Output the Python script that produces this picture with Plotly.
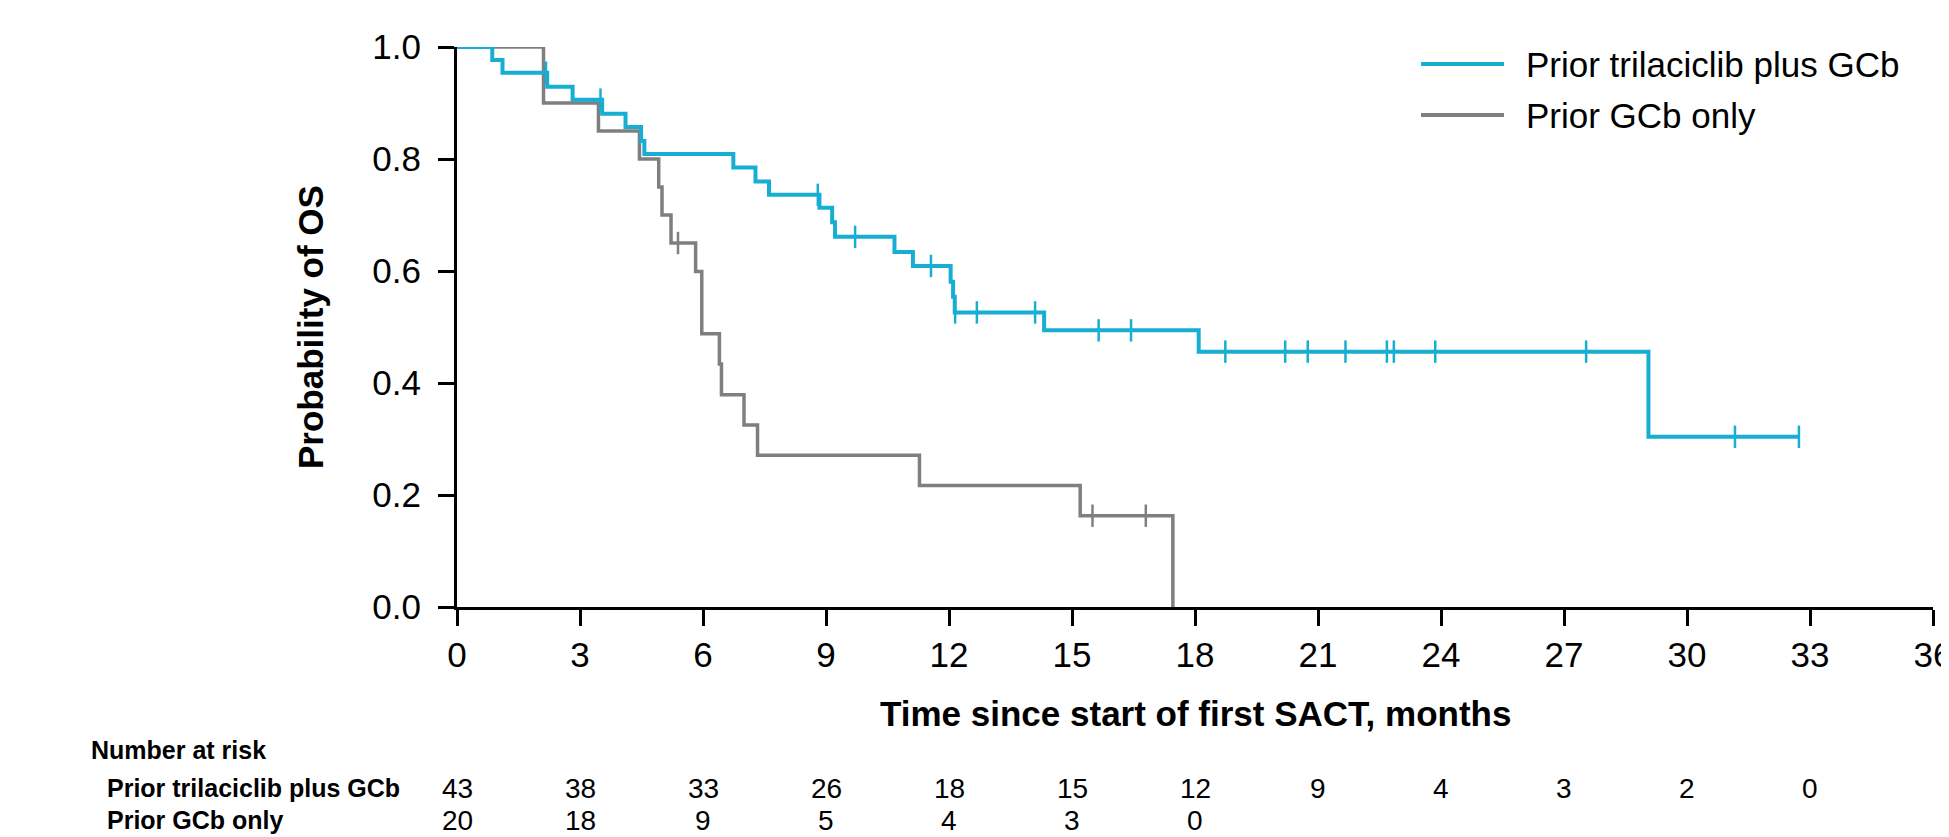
import plotly.graph_objects as go

# ---- data ----
blue_name = "Prior trilaciclib plus GCb"
gray_name = "Prior GCb only"

blue_event_t = [0.86, 1.11, 2.20, 2.82, 3.54, 4.11, 4.49, 4.57, 6.74, 7.28, 7.61, 8.84, 9.15, 9.22,
                10.67, 11.12, 12.04, 12.10, 12.14, 14.32, 18.09, 29.06]
blue_event_s = [0.977, 0.954, 0.929, 0.906, 0.881, 0.857, 0.832, 0.809, 0.785, 0.760, 0.736, 0.713,
                0.687, 0.661, 0.634, 0.609, 0.581, 0.554, 0.526, 0.494, 0.456, 0.304]
blue_censor_t = [2.17, 3.50, 8.80, 9.71, 11.56, 12.15, 12.68, 14.10, 15.65, 16.44, 18.74, 20.20,
                 20.75, 21.67, 22.68, 22.85, 23.86, 27.54, 31.17, 32.73]
blue_end_t = 32.73

gray_event_t = [2.11, 3.45, 4.45, 4.92, 5.00, 5.22, 5.82, 5.97, 6.40, 6.45, 7.00, 7.33, 11.28, 15.20, 17.46]
gray_event_s = [0.90, 0.85, 0.80, 0.75, 0.70, 0.65, 0.599, 0.488, 0.434, 0.379, 0.325, 0.271, 0.217, 0.163, 0.0]
gray_censor_t = [5.39, 15.50, 16.80]
gray_end_t = 17.46

risk_times = [0, 3, 6, 9, 12, 15, 18, 21, 24, 27, 30, 33]
risk_blue = [43, 38, 33, 26, 18, 15, 12, 9, 4, 3, 2, 0]
risk_gray = [20, 18, 9, 5, 4, 3, 0]

x_ticks = list(range(0, 37, 3))
y_ticks = [0.0, 0.2, 0.4, 0.6, 0.8, 1.0]

BLUE = "#17AED4"
GRAY = "#7F7F7F"
TICK_FONT = "Liberation Sans Narrow, Arial Narrow, Liberation Sans, Arial"
TEXT_FONT = "Liberation Sans, Arial"


def step_xy(ts, ss, end_t):
    xs = [0.0] + list(ts)
    ys = [1.0] + list(ss)
    if end_t > xs[-1]:
        xs.append(end_t)
        ys.append(ys[-1])
    return xs, ys


def surv_at(t, ts, ss):
    s = 1.0
    for et, es in zip(ts, ss):
        if et <= t:
            s = es
    return s


fig = go.Figure()
for ts, ss, ct, end_t, col, w, name in [
    (gray_event_t, gray_event_s, gray_censor_t, gray_end_t, GRAY, 3.5, gray_name),
    (blue_event_t, blue_event_s, blue_censor_t, blue_end_t, BLUE, 4, blue_name),
]:
    xs, ys = step_xy(ts, ss, end_t)
    fig.add_trace(go.Scatter(x=xs, y=ys, mode="lines", line=dict(color=col, width=w, shape="hv"),
                             name=name, showlegend=False, hoverinfo="skip"))
    fig.add_trace(go.Scatter(x=ct, y=[surv_at(t, ts, ss) for t in ct], mode="markers",
                             marker=dict(symbol="line-ns-open", size=16, color=col,
                                         line=dict(color=col, width=2.5)),
                             showlegend=False, hoverinfo="skip"))

# page has an 8px body margin; plot area on screen: x 457..1933, y 47..607
OFF = 8
W, H = 1949 - OFF, 837 - OFF
L, R, T, B = 457, 1933, 47, 607
def px(x):
    return (x - L) / (R - L)
def py(y):
    return (B - y) / (B - T)

annotations = []
shapes = []
# legend
for (label, col, yy) in [(blue_name, BLUE, 64), (gray_name, GRAY, 115)]:
    shapes.append(dict(type="line", xref="paper", yref="paper", x0=px(1421), x1=px(1504),
                       y0=py(yy), y1=py(yy), line=dict(color=col, width=4)))
    annotations.append(dict(text=label, xref="paper", yref="paper", x=px(1524), y=py(yy),
                            xanchor="left", yanchor="middle", showarrow=False,
                            font=dict(family=TEXT_FONT, size=35, color="black")))

# axis titles
annotations.append(dict(text="<b>Time since start of first SACT, months</b>", xref="paper", yref="paper",
                        x=0.5, y=py(713), xanchor="center", yanchor="middle", showarrow=False,
                        font=dict(family=TEXT_FONT, size=35, color="black")))
annotations.append(dict(text="<b>Probability of OS</b>", xref="paper", yref="paper", textangle=-90,
                        x=px(310), y=0.5, xanchor="center", yanchor="middle", showarrow=False,
                        font=dict(family=TEXT_FONT, size=35, color="black")))

# number at risk table
annotations.append(dict(text="<b>Number at risk</b>", xref="paper", yref="paper", x=px(89), y=py(750),
                        xanchor="left", yanchor="middle", showarrow=False,
                        font=dict(family=TEXT_FONT, size=25, color="black")))
for label, vals, yy in [(blue_name, risk_blue, 788), (gray_name, risk_gray, 820)]:
    annotations.append(dict(text="<b>" + label + "</b>", xref="paper", yref="paper", x=px(105), y=py(yy),
                            xanchor="left", yanchor="middle", showarrow=False,
                            font=dict(family=TEXT_FONT, size=25, color="black")))
    for t, v in zip(risk_times, vals):
        annotations.append(dict(text=str(v), xref="x", yref="paper", x=t, y=py(yy),
                                xanchor="center", yanchor="middle", showarrow=False,
                                font=dict(family=TICK_FONT, size=28, color="black")))

fig.update_layout(
    width=W, height=H,
    margin=dict(l=L - OFF, r=W + OFF - R, t=T - OFF, b=H + OFF - B, pad=0, autoexpand=False),
    plot_bgcolor="white", paper_bgcolor="white",
    showlegend=False,
    annotations=annotations, shapes=shapes,
    xaxis=dict(range=[0, 36], tickvals=x_ticks, ticktext=[str(v) for v in x_ticks], automargin=False,
               showgrid=False, zeroline=False, showline=True, linecolor="black", linewidth=3,
               ticks="outside", ticklen=16, tickwidth=3, tickcolor="black", ticklabeloverflow="allow",
               tickfont=dict(family=TICK_FONT, size=35, color="black"), ticklabelstandoff=-1),
    yaxis=dict(range=[0, 1], tickvals=y_ticks, ticktext=["%.1f" % v for v in y_ticks], automargin=False,
               showgrid=False, zeroline=False, showline=True, linecolor="black", linewidth=3,
               ticks="outside", ticklen=16, tickwidth=3, tickcolor="black",
               tickfont=dict(family=TICK_FONT, size=35, color="black"), ticklabelstandoff=10),
)

fig.write_html("out.html")
